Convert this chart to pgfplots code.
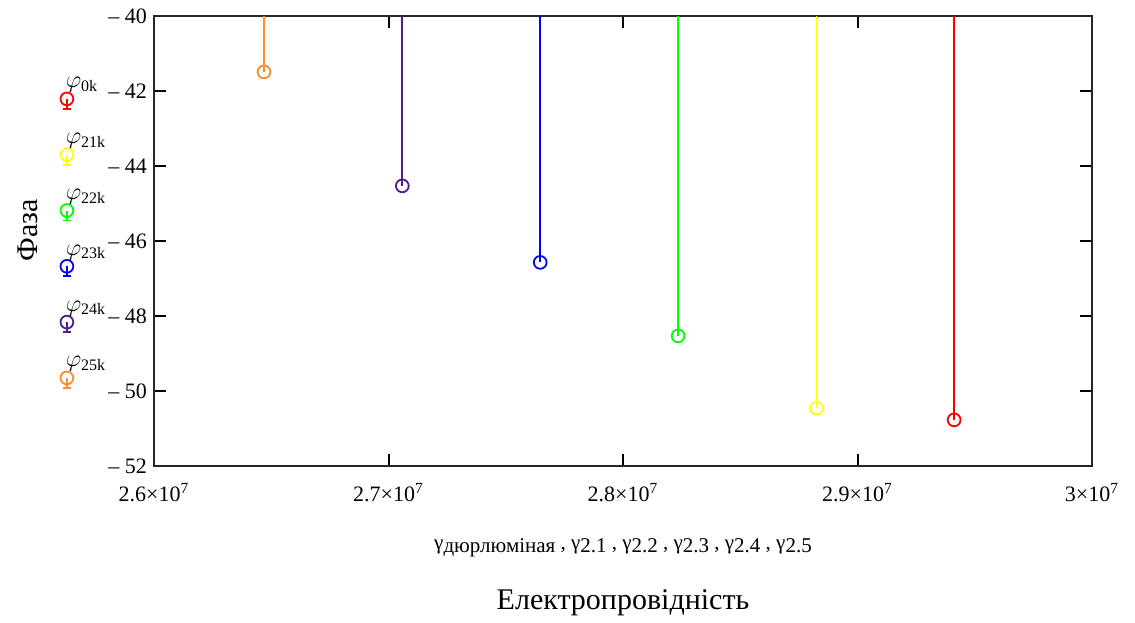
\documentclass[border=0pt]{standalone}
\usepackage{fontspec}
\setmainfont{Liberation Serif}
\usepackage{pgfplots}
\pgfplotsset{compat=1.18}

\definecolor{mcred}{RGB}{255,0,0}
\definecolor{mcyellow}{RGB}{255,255,0}
\definecolor{mcgreen}{RGB}{0,255,0}
\definecolor{mcblue}{RGB}{0,0,255}
\definecolor{mcpurple}{RGB}{80,30,140}
\definecolor{mcorange}{RGB}{255,140,40}

\newcommand{\gs}[1]{γ\raisebox{-0.3ex}{#1}}

\pgfplotsset{stem/.style={ycomb, mark=o, mark size=3.2pt, line width=0.9pt, mark options={solid}}}

\begin{document}
\begin{tikzpicture}
\begin{axis}[
  name=ax,
  scale only axis, width=469pt, height=225pt,
  xmin=2.6e7, xmax=3e7, ymin=-52, ymax=-40,
  scaled x ticks=false,
  xtick={2.6e7,2.7e7,2.8e7,2.9e7,3e7},
  xticklabels={2.6×10\textsuperscript{7},2.7×10\textsuperscript{7},2.8×10\textsuperscript{7},2.9×10\textsuperscript{7},3×10\textsuperscript{7}},
  ytick={-52,-50,-48,-46,-44,-42,-40},
  yticklabels={– 52,– 50,– 48,– 46,– 44,– 42,– 40},
  tick align=inside, major tick length=6pt,
  every tick/.style={black, line width=1pt},
  axis line style={line width=1pt, black!85},
  tick label style={font=\fontsize{11}{13}\selectfont},
  xticklabel style={yshift=-5pt},
  ylabel={Фаза},
  ylabel style={at={(axis description cs:-0.134,0.524)}, anchor=center, font=\fontsize{15}{18}\selectfont},
  xlabel={Електропровідність},
  xlabel style={at={(axis description cs:0.5,-0.304)}, anchor=center, font=\fontsize{15}{18}\selectfont},
  clip=true,
  legend image code/.code={
    \path (0pt,-14pt) (0pt,14pt);
    \draw[#1, mark=none, line width=0.9pt, overlay] (3pt,-5.5pt) -- (3pt,-10.5pt) (1pt,-10.5pt) -- (5pt,-10.5pt);
    \draw[#1, only marks, overlay] plot coordinates {(3pt,-5.5pt)};
  },
  legend style={draw=none, fill=none, inner sep=0pt, outer sep=0pt,
    at={(-0.1002,0.9044)}, anchor=north west, row sep=-1pt,
    cells={anchor=base west, inner xsep=1.5pt}, font=\fontsize{12}{14}\selectfont},
]
\addplot[stem, color=mcred] coordinates {(2.9412e7,-50.77)};
\addlegendentry{$\varphi_{\mathrm{0k}}$}
\addplot[stem, color=mcyellow] coordinates {(2.8825e7,-50.46)};
\addlegendentry{$\varphi_{\mathrm{21k}}$}
\addplot[stem, color=mcgreen] coordinates {(2.8235e7,-48.53)};
\addlegendentry{$\varphi_{\mathrm{22k}}$}
\addplot[stem, color=mcblue] coordinates {(2.7647e7,-46.57)};
\addlegendentry{$\varphi_{\mathrm{23k}}$}
\addplot[stem, color=mcpurple] coordinates {(2.7059e7,-44.53)};
\addlegendentry{$\varphi_{\mathrm{24k}}$}
\addplot[stem, color=mcorange] coordinates {(2.6469e7,-41.49)};
\addlegendentry{$\varphi_{\mathrm{25k}}$}
\end{axis}
\path (ax.south) ++(0pt,-41pt) node[font=\fontsize{10.5}{12}\selectfont]
  {\gs{дюрлюміная} , \gs{2.1} , \gs{2.2} , \gs{2.3} , \gs{2.4} , \gs{2.5}};
\path (ax.south west) ++(-77pt,-75.5pt) (ax.north east) ++(21.5pt,8pt);
\end{tikzpicture}
\end{document}
